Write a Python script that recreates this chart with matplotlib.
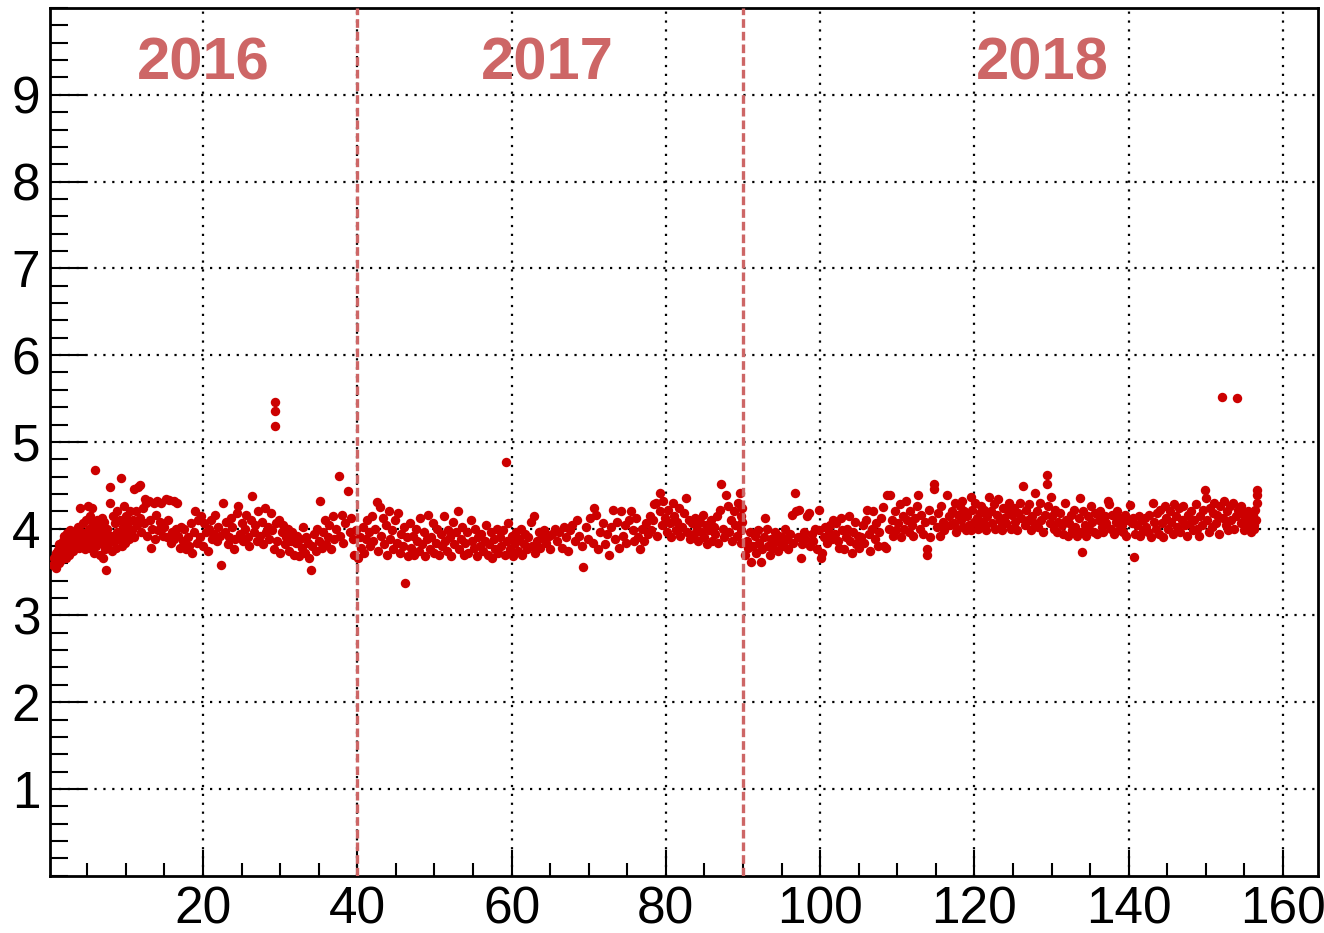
import matplotlib
matplotlib.use("Agg")
import matplotlib.pyplot as plt
from matplotlib.ticker import MultipleLocator

# --- data (x = week index, y = value) ---
pts_2016 = [
    (0.6,3.58),(0.7,3.66),(0.8,3.62),(0.9,3.72),(1.0,3.55),(1.1,3.68),(1.2,3.75),(1.3,3.6),(1.4,3.82),(1.5,3.7),
    (1.6,3.64),(1.7,3.78),(1.8,3.86),(1.9,3.7),(2.0,3.92),(2.1,3.74),(2.2,3.66),(2.3,3.84),(2.4,3.95),(2.5,3.76),
    (2.6,3.88),(2.7,3.7),(2.8,3.98),(2.9,3.8),(3.0,3.9),(3.2,3.74),(3.3,3.85),(3.4,3.96),(3.5,3.8),
    (3.7,3.92),(3.8,4.02),(3.9,3.78),(4.0,3.88),(4.1,4.24),(4.2,3.96),(4.3,3.82),(4.4,4.06),(4.5,3.9),
    (4.7,3.76),(4.8,4.1),(4.9,3.95),(5.0,3.85),(5.1,4.26),(5.2,4.0),(5.3,3.78),(5.4,4.14),(5.5,3.92),
    (5.6,4.24),(5.7,3.86),(5.8,4.05),(5.9,3.72),(6.0,4.68),(6.1,3.98),(6.2,3.8),(6.3,4.1),(6.4,3.9),
    (6.6,3.7),(6.7,4.02),(6.8,3.84),(6.9,4.12),(7.0,3.66),(7.1,3.94),(7.2,4.08),(7.3,3.76),(7.4,3.52),(7.5,3.88),
    (7.6,4.0),(7.7,3.82),(7.9,4.3),(8.0,4.48),(8.1,3.92),(8.2,3.74),(8.3,4.14),(8.4,3.86),
    (8.6,4.06),(8.7,3.78),(8.8,3.96),(8.9,4.2),(9.0,3.88),(9.2,4.1),(9.4,4.58),(9.5,3.8),
    (9.6,4.02),(9.7,3.92),(9.8,4.26),(9.9,3.84),(10.0,4.14),(10.2,3.96),(10.3,4.06),(10.4,3.88),
    (10.6,4.2),(10.8,3.98),(10.9,4.1),(11.0,4.46),(11.1,3.9),(11.3,4.2),(11.4,4.04),
    (11.6,4.48),(11.8,4.5),(11.9,4.12),(12.0,3.96),(12.2,4.24),(12.3,4.06),(12.5,4.34),
    (12.6,4.3),(12.8,3.92),(13.0,4.32),(13.1,4.1),(13.3,3.78),(13.4,4.0),
    (13.6,4.3),(13.8,3.88),(13.9,4.16),(14.1,4.32),(14.2,3.98),(14.4,4.08),
    (14.6,4.3),(14.8,3.92),(15.0,4.02),(15.2,4.34),(15.3,3.9),(15.5,4.1),
    (15.6,4.33),(15.8,3.84),(16.0,3.96),(16.2,4.32),(16.3,3.88),(16.5,4.0),
    (16.7,4.3),(16.8,3.92),(17.0,3.78),(17.2,4.02),(17.4,3.86),
    (17.6,4.0),(17.8,3.76),(18.0,3.9),(18.2,3.8),(18.4,4.06),
    (18.6,3.72),(18.8,3.96),(19.0,4.2),(19.2,3.84),(19.4,4.1),
    (19.6,3.9),(19.8,4.14),(20.0,3.8),(20.2,4.06),(20.4,3.96),
    (20.6,3.74),(20.8,4.0),(21.0,4.1),(21.2,3.88),(21.4,3.94),
    (21.6,4.16),(21.8,3.86),(22.0,4.02),(22.2,3.92),(22.4,3.58),
    (22.6,4.3),(22.8,3.96),(23.0,4.08),(23.2,3.82),(23.4,3.9),
    (23.6,4.12),(23.8,4.02),(24.0,3.76),(24.2,3.88),(24.4,4.18),
    (24.6,4.26),(24.8,3.94),(25.0,4.06),(25.2,3.86),(25.4,4.0),
    (25.6,4.16),(25.8,3.9),(26.0,3.8),(26.2,4.1),(26.4,4.38),
    (26.6,3.96),(26.8,4.04),(27.0,3.86),(27.2,4.2),(27.4,3.92),
    (27.6,4.08),(27.8,3.82),(28.0,4.24),(28.2,3.96),(28.4,4.02),
    (28.6,3.88),(28.8,4.18),(29.0,3.98),(29.2,3.76),(29.4,5.18),(29.4,5.35),(29.4,5.46),(29.5,4.06),
    (29.6,3.86),(29.8,4.1),(30.0,3.72),(30.2,3.96),(30.4,4.04),
    (30.6,3.82),(30.8,3.9),(31.0,4.0),(31.2,3.74),(31.4,3.86),
    (31.6,3.96),(31.8,3.7),(32.0,3.84),(32.2,3.92),(32.4,3.68),
    (32.6,3.88),(32.8,3.78),(33.0,4.02),(33.2,3.72),(33.4,3.9),
    (33.6,3.84),(33.8,3.66),(34.0,3.52),(34.2,3.8),(34.4,3.94),
    (34.6,3.74),(34.8,4.0),(35.0,3.86),(35.2,4.32),(35.4,3.78),
    (35.6,3.96),(35.8,4.1),(36.0,3.82),(36.2,3.9),(36.4,4.04),
    (36.6,3.76),(36.8,4.14),(37.0,3.88),(37.2,4.0),(37.6,4.61),
    (37.8,3.92),(38.0,4.16),(38.2,3.84),(38.4,4.06),
    (38.8,4.43),(39.0,3.96),(39.2,4.12),(39.4,3.88),
    (39.6,3.7),(39.8,3.98),
]

pts_2017 = [
    (40.1,3.66),(40.3,3.9),(40.5,3.78),(40.7,4.02),(40.9,3.72),
    (41.1,3.88),(41.3,4.1),(41.5,3.96),(41.7,3.8),(41.9,4.14),
    (42.1,3.86),(42.3,4.0),(42.5,4.31),(42.7,3.74),(42.9,4.25),
    (43.1,3.92),(43.3,4.12),(43.5,3.82),(43.7,4.04),(43.9,3.7),
    (44.1,4.2),(44.3,3.88),(44.5,3.98),(44.7,3.76),(44.9,4.1),
    (45.1,3.84),(45.3,4.18),(45.5,3.72),(45.7,3.94),(45.9,3.8),
    (46.1,4.02),(46.2,3.37),(46.4,3.9),(46.6,3.68),(46.8,4.06),
    (47.0,3.78),(47.2,3.92),(47.4,3.7),(47.6,4.0),(47.8,3.86),
    (48.0,3.74),(48.2,4.12),(48.4,3.82),(48.6,3.96),(48.8,3.68),
    (49.0,3.88),(49.2,4.16),(49.4,3.76),(49.6,3.9),(49.8,4.06),
    (50.0,3.72),(50.2,3.84),(50.4,4.0),(50.6,3.7),(50.8,3.94),
    (51.0,3.8),(51.2,4.14),(51.4,3.86),(51.6,3.74),(51.8,3.98),
    (52.0,3.9),(52.2,3.68),(52.4,4.08),(52.6,3.82),(52.8,3.96),
    (53.0,4.2),(53.2,3.76),(53.4,3.88),(53.6,4.02),(53.8,3.7),
    (54.0,3.84),(54.2,3.96),(54.4,3.72),(54.7,4.1),(54.9,3.86),
    (55.1,3.78),(55.3,4.0),(55.5,3.68),(55.7,3.9),(55.9,3.8),
    (56.1,3.94),(56.3,3.74),(56.5,3.86),(56.7,4.04),(56.9,3.7),
    (57.1,3.82),(57.3,3.96),(57.5,3.66),(57.7,3.88),(57.9,3.76),
    (58.1,4.0),(58.3,3.72),(58.5,3.9),(58.7,3.8),(58.9,3.98),
    (59.1,3.7),(59.3,4.77),(59.4,3.86),(59.6,4.06),(59.8,3.76),
    (60.0,3.92),(60.2,3.68),(60.4,3.84),(60.6,3.96),(60.8,3.74),
    (61.0,3.88),(61.2,4.0),(61.4,3.7),(61.6,3.82),(61.8,3.94),
    (62.0,3.76),(62.2,3.9),(62.5,4.08),(62.7,3.8),(62.9,4.14),
    (63.1,3.72),(63.3,3.86),(63.5,3.96),(63.7,3.78),(63.9,3.9),
    (64.2,3.98),(64.5,3.84),(64.8,3.92),(65.0,3.76),
    (65.3,3.94),(65.6,4.0),(65.9,3.86),
    (66.2,3.96),(66.5,3.78),(66.8,4.02),(67.0,3.9),
    (67.3,3.74),(67.6,3.98),(67.9,4.04),
    (68.2,3.86),(68.5,4.1),(68.8,3.92),
    (69.1,3.8),(69.3,3.56),(69.6,4.02),(69.9,3.88),
    (70.2,4.12),(70.5,3.84),(70.7,4.24),(70.9,4.16),
    (71.2,3.76),(71.5,3.96),(71.8,4.06),
    (72.1,3.82),(72.4,3.94),(72.7,3.7),(72.9,4.02),
    (73.2,4.22),(73.4,3.88),(73.7,4.08),(73.9,3.78),
    (74.2,4.2),(74.4,3.92),(74.7,4.04),(74.9,3.84),
    (75.2,4.1),(75.5,4.2),(75.7,3.98),(75.9,3.86),
    (76.2,4.12),(76.4,3.9),(76.7,3.76),(76.9,4.0),
    (77.2,3.86),(77.4,4.06),(77.7,3.94),(77.9,4.14),
    (78.1,3.98),(78.3,4.1),(78.5,4.28),(78.7,4.3),(78.9,3.92),
    (79.2,4.41),(79.3,4.2),(79.5,4.04),(79.7,4.32),(79.9,4.12),
    (80.1,3.96),(80.3,4.22),(80.5,4.06),(80.7,3.9),(80.9,4.3),
    (81.1,4.14),(81.3,3.98),(81.5,4.08),(81.7,4.24),(81.9,3.92),
    (82.1,4.02),(82.3,4.18),(82.6,4.35),(82.8,3.96),(83.0,4.1),
    (83.2,3.88),(83.4,4.06),(83.6,3.94),(83.8,4.12),
    (84.0,4.0),(84.2,3.86),(84.4,4.08),(84.6,3.96),(84.8,4.16),
    (85.0,3.9),(85.2,4.04),(85.4,3.82),(85.6,3.98),(85.8,4.1),
    (86.0,3.86),(86.2,4.02),(86.4,3.94),(86.6,4.14),(86.8,3.84),
    (87.0,4.22),(87.2,4.52),(87.4,4.0),(87.6,3.9),(87.8,4.39),
    (88.0,4.26),(88.2,3.96),(88.4,4.1),(88.6,3.86),(88.8,4.2),
    (89.0,4.04),(89.2,3.92),(89.4,4.3),(89.6,4.41),(89.7,4.14),(89.8,3.98),(89.9,4.24),(89.9,4.08),(89.8,3.84),
]

pts_2018 = [
    (90.3,3.7),(90.5,3.86),(90.7,3.78),(90.9,3.96),
    (91.1,3.62),(91.3,3.8),(91.5,3.92),(91.7,3.72),(91.9,3.98),
    (92.1,3.84),(92.3,3.62),(92.5,3.76),(92.7,3.9),(92.9,4.12),
    (93.1,4.0),(93.3,3.8),(93.5,3.7),(93.7,3.88),(93.9,3.78),
    (94.1,3.96),(94.3,3.86),(94.5,3.74),(94.7,3.92),(94.9,3.82),
    (95.1,3.9),(95.3,3.8),(95.5,4.0),(95.7,3.88),(95.9,3.76),
    (96.1,3.94),(96.3,4.16),(96.5,3.84),(96.7,4.41),(96.9,4.2),
    (97.1,3.9),(97.3,4.22),(97.5,3.66),(97.7,3.82),(97.9,3.96),
    (98.1,3.88),(98.3,4.14),(98.5,4.18),(98.7,3.8),(98.9,3.94),
    (99.1,3.86),(99.3,4.0),(99.6,3.76),(99.8,4.22),(99.9,3.98),
    (100.1,3.66),(100.3,3.72),(100.5,3.9),(100.7,4.02),(100.9,3.84),
    (101.1,3.96),(101.3,4.04),(101.5,3.88),(101.7,4.1),(101.9,3.94),
    (102.1,4.06),(102.3,3.86),(102.5,3.78),(102.7,4.12),(102.9,3.98),
    (103.1,3.76),(103.3,3.9),(103.5,4.0),(103.7,4.14),(103.9,3.86),
    (104.1,3.72),(104.3,3.96),(104.5,4.08),(104.7,3.82),(104.9,3.92),
    (105.1,3.78),(105.3,3.9),(105.5,4.04),(105.7,3.84),(105.9,4.1),
    (106.1,4.22),(106.3,3.94),(106.5,3.74),(106.7,4.0),(106.9,4.2),
    (107.1,3.88),(107.3,4.06),(107.5,3.8),(107.7,3.96),(107.9,4.12),
    (108.1,4.25),(108.3,3.8),(108.5,3.78),(108.7,4.39),(108.9,4.0),
    (109.1,4.39),(109.3,4.1),(109.5,3.92),(109.7,4.2),(109.9,3.98),
    (110.1,4.06),(110.3,4.28),(110.5,3.9),(110.7,4.14),(110.9,4.0),
    (111.1,4.32),(111.3,4.1),(111.5,3.96),(111.7,4.2),(111.9,4.04),
    (112.1,3.92),(112.3,4.12),(112.5,4.26),(112.7,4.39),(112.9,4.0),
    (113.1,4.16),(113.3,3.94),(113.6,4.08),(113.9,3.77),(113.9,3.7),
    (114.1,4.22),(114.3,3.9),(114.5,4.1),(114.8,4.52),(114.8,4.46),
    (115.1,4.02),(115.3,4.18),(115.5,3.92),(115.7,4.26),(115.9,4.08),
    (116.1,3.98),(116.5,4.39),(116.7,4.14),(116.9,4.04),
    (117.1,4.2),(117.3,4.06),(117.5,4.3),(117.7,4.0),(117.9,4.16),(117.6,3.96),
    (118.1,4.26),(118.3,4.1),(118.5,4.02),(118.7,4.2),(118.9,3.98),(118.4,4.32),
    (119.1,4.14),(119.3,4.04),(119.6,4.37),(119.7,4.22),(119.9,4.08),(119.5,3.98),
    (120.1,4.3),(120.3,4.12),(120.5,4.0),(120.7,4.18),(120.9,4.26),(120.6,4.06),
    (121.1,4.08),(121.3,4.22),(121.5,3.98),(121.7,4.14),(121.9,4.36),(121.4,4.04),
    (122.1,4.2),(122.3,4.06),(122.5,4.28),(122.7,4.0),(122.9,4.16),
    (123.1,4.34),(123.3,4.1),(123.5,4.02),(123.7,4.24),(123.9,4.12),(123.6,3.98),
    (124.1,4.06),(124.3,4.2),(124.5,4.3),(124.7,4.0),(124.9,4.16),
    (125.1,4.24),(125.3,4.08),(125.5,3.98),(125.7,4.18),(125.9,4.3),
    (126.1,4.12),(126.3,4.49),(126.5,4.04),(126.7,4.22),(126.9,4.1),
    (127.1,4.28),(127.3,3.98),(127.5,4.14),(127.7,4.06),(127.9,4.41),
    (128.1,4.2),(128.3,4.02),(128.5,4.3),(128.7,4.1),(128.9,3.96),
    (129.1,4.16),(129.4,4.62),(129.4,4.52),(129.6,4.26),(129.8,4.06),(129.9,4.36),
    (130.1,4.14),(130.3,4.0),(130.5,4.22),(130.7,3.96),(130.9,4.08),
    (131.1,4.18),(131.3,4.04),(131.5,3.94),(131.7,4.29),(131.9,4.1),
    (132.1,3.92),(132.3,4.06),(132.5,4.16),(132.7,3.98),(132.9,4.22),
    (133.1,4.02),(133.3,3.91),(133.5,4.12),(133.7,4.35),(133.9,3.73),(133.8,3.96),
    (134.1,4.2),(134.3,4.04),(134.5,3.92),(134.7,4.14),(134.9,4.0),
    (135.1,4.26),(135.3,4.08),(135.5,3.96),(135.7,4.18),(135.9,3.94),
    (136.1,4.1),(136.3,4.2),(136.5,4.02),(136.7,3.96),(136.9,4.14),
    (137.1,4.06),(137.3,4.32),(137.5,4.28),(137.7,4.0),(137.9,4.16),
    (138.1,3.94),(138.3,4.08),(138.5,4.2),(138.7,3.98),(138.9,4.12),
    (139.1,4.04),(139.3,3.96),(139.5,4.16),(139.7,3.92),(139.9,4.1),
    (140.2,4.27),(140.4,4.06),(140.7,3.67),(140.8,3.94),(140.6,4.12),
    (141.1,4.04),(141.3,4.14),(141.5,3.92),(141.7,4.1),(141.9,3.98),
    (142.1,4.12),(142.3,4.02),(142.5,3.96),(142.7,4.16),(142.9,3.9),
    (143.1,4.3),(143.3,4.08),(143.5,4.0),(143.7,4.18),(143.9,3.94),
    (144.1,4.22),(144.3,4.06),(144.5,3.9),(144.7,4.26),(144.9,4.12),
    (145.1,4.0),(145.3,4.2),(145.5,4.08),(145.7,3.94),(145.9,4.28),
    (146.1,4.14),(146.3,4.02),(146.5,4.24),(146.7,3.96),(146.9,4.1),
    (147.1,4.26),(147.3,4.04),(147.5,3.92),(147.7,4.16),(147.9,4.06),
    (148.1,4.2),(148.3,3.98),(148.5,4.1),(148.7,4.28),(148.9,4.0),
    (149.1,3.92),(149.3,4.14),(149.5,4.04),(149.7,4.22),(149.9,4.44),(150.0,4.35),
    (150.2,4.1),(150.4,3.96),(150.6,4.24),(150.8,4.02),(150.9,4.18),
    (151.1,4.3),(151.3,4.06),(151.5,4.16),(151.7,3.94),(151.9,4.26),
    (152.1,5.52),(152.2,4.12),(152.4,4.32),(152.6,4.04),(152.8,4.2),(152.9,3.98),
    (153.1,4.26),(153.3,4.1),(153.5,4.3),(153.7,4.0),(153.9,4.14),
    (154.1,5.5),(154.2,4.22),(154.5,4.26),(154.6,4.06),(154.8,4.18),(154.9,3.98),
    (155.1,4.12),(155.3,4.02),(155.5,4.2),(155.7,4.08),(155.9,3.96),
    (156.1,4.16),(156.3,4.04),(156.5,4.1),(156.6,4.3),(156.6,4.39),(156.6,4.45),(156.4,4.22),(156.2,4.0),
]

years = ["2016", "2017", "2018"]
year_label_x = [20, 64.7, 128.8]
year_bounds = [40, 90]

POINT_COLOR = "#cc0000"
YEAR_COLOR = "#cd6666"

plt.rcParams["font.family"] = ["Liberation Sans", "DejaVu Sans"]

fig = plt.figure(figsize=(13.24, 9.33), dpi=100)
ax = fig.add_axes([0.0378, 0.0614, 0.9574, 0.93])

for pts in (pts_2016, pts_2017, pts_2018):
    xs = [p[0] for p in pts]
    ys = [p[1] for p in pts]
    ax.plot(xs, ys, "o", color=POINT_COLOR, ms=6.8, mew=0, zorder=3)

for xb in year_bounds:
    ax.axvline(xb, color=YEAR_COLOR, lw=2.4, ls=(0, (2.6, 1.2)), zorder=4)

for lab, xl in zip(years, year_label_x):
    ax.text(xl, 9.35, lab, color=YEAR_COLOR, fontsize=43, fontweight="bold",
            ha="center", va="center", zorder=5)

ax.set_xlim(0.18, 164.5)
ax.set_ylim(0, 10)
ax.xaxis.set_major_locator(MultipleLocator(20))
ax.xaxis.set_minor_locator(MultipleLocator(5))
ax.yaxis.set_major_locator(MultipleLocator(1))
ax.yaxis.set_minor_locator(MultipleLocator(0.2))
ax.set_xticks([20, 40, 60, 80, 100, 120, 140, 160])
ax.set_yticks([1, 2, 3, 4, 5, 6, 7, 8, 9])

ax.grid(True, which="major", color="black", lw=1.6, ls=(0, (1, 3)), zorder=1)
ax.tick_params(axis="both", which="both", direction="in", top=False, right=False,
               width=1.5, labelsize=37, colors="black")
ax.tick_params(axis="x", which="major", length=19, pad=7)
ax.tick_params(axis="x", which="minor", length=9.5)
ax.tick_params(axis="y", which="major", length=26, pad=7)
ax.tick_params(axis="y", which="minor", length=13)
for s in ax.spines.values():
    s.set_linewidth(2)

fig.savefig("out.png", dpi=100)
